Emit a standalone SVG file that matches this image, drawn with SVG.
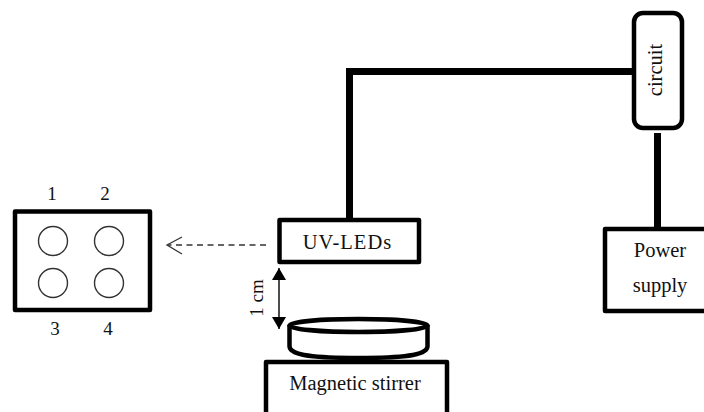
<svg xmlns="http://www.w3.org/2000/svg" width="704" height="412" viewBox="0 0 704 412">
<defs>
<marker id="solid" markerUnits="userSpaceOnUse" markerWidth="14" markerHeight="14" refX="12" refY="7" orient="auto-start-reverse"><path d="M0 0L12 7L0 14Z" fill="#000"/></marker>
</defs>
<style>
.box{fill:#fff;stroke:#000;stroke-width:4.5;stroke-linejoin:round}
.well{fill:#fff;stroke:#333;stroke-width:1.4}
.wire{fill:none;stroke:#000;stroke-width:7;stroke-linejoin:miter}
text{font-family:"Liberation Serif","Times New Roman",serif;font-size:20.500px;fill:#111;text-anchor:middle}
.num{font-size:19px}
</style>
<rect width="704" height="412" fill="#fff"/>
<g id="connectors">
<path class="wire" d="M349.500 218V71.500H634"/>
<path class="wire" d="M657.500 133V228"/>
<path d="M266 245H168" fill="none" stroke="#333" stroke-width="1.300" stroke-dasharray="6 4.500"/>
<path d="M182 237L167 245L182 254" fill="none" stroke="#333" stroke-width="1.300"/>
<path d="M279 268V329" fill="none" stroke="#000" stroke-width="1.400" marker-start="url(#solid)" marker-end="url(#solid)"/>
</g>
<g id="sample-plate">
<rect class="box" x="15" y="211.500" width="135" height="98.500"/>
<circle class="well" cx="53" cy="241" r="14.500"/>
<circle class="well" cx="109" cy="241" r="14.500"/>
<circle class="well" cx="53" cy="283" r="14.500"/>
<circle class="well" cx="109" cy="283" r="14.500"/>
<text class="num" x="52" y="200">1</text>
<text class="num" x="105" y="200">2</text>
<text class="num" x="55" y="335">3</text>
<text class="num" x="108" y="335">4</text>
</g>
<g id="uv-leds">
<rect class="box" x="279.500" y="220" width="139.500" height="42"/>
<text x="347.500" y="249" letter-spacing="1">UV-LEDs</text>
</g>
<g id="distance-label">
<text class="num" transform="translate(263 298) rotate(-90)">1 cm</text>
</g>
<g id="magnetic-stirrer">
<rect class="box" x="266" y="362" width="181" height="55"/>
<text x="355" y="390">Magnetic stirrer</text>
</g>
<g id="stirrer-disc">
<path class="box" d="M289.500 325V346C289.500 354 305 358 358.500 358S427.500 354 427.500 346V325" stroke-width="5"/>
<ellipse cx="358.500" cy="325.500" rx="69" ry="6.500" fill="#fff" stroke="#000" stroke-width="4.500"/>
</g>
<g id="circuit">
<rect class="box" x="634" y="13" width="48" height="115" rx="9"/>
<text transform="translate(662 70) rotate(-90)">circuit</text>
</g>
<g id="power-supply">
<rect class="box" x="605" y="229" width="110" height="82"/>
<text x="660" y="257">Power</text>
<text x="660" y="292">supply</text>
</g>
</svg>
